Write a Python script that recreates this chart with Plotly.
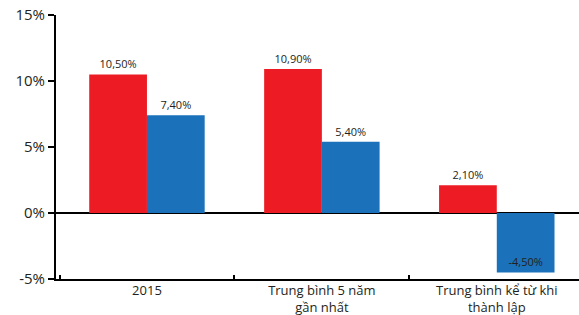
import plotly.graph_objects as go

categories = ["2015", "Trung bình 5 năm<br>gần nhất", "Trung bình kể từ khi<br>thành lập"]
red_values = [10.5, 10.9, 2.1]
blue_values = [7.4, 5.4, -4.5]
y_ticks = [-5, 0, 5, 10, 15]

def fmt(v):
    return f"{v:.2f}%".replace(".", ",")

RED = "#ED1C24"
BLUE = "#1B72BA"
FONT = "Open Sans"
TXT = "#231F20"

fig = go.Figure()
fig.add_trace(go.Bar(
    x=categories, y=red_values, marker_color=RED, marker_line_width=0,
    text=[fmt(v) for v in red_values], textposition="outside",
    textfont=dict(size=11, color=TXT, family=FONT), cliponaxis=False,
))
fig.add_trace(go.Bar(
    x=categories, y=blue_values, marker_color=BLUE, marker_line_width=0,
    text=[fmt(v) for v in blue_values],
    textposition=["outside" if v >= 0 else "inside" for v in blue_values],
    insidetextanchor="end",
    textfont=dict(size=11, color=TXT, family=FONT), cliponaxis=False,
))

fig.update_layout(
    width=579, height=315,
    margin=dict(l=56, r=0, t=15, b=36),
    paper_bgcolor="white", plot_bgcolor="white",
    showlegend=False,
    barmode="group", bargap=0.34, bargroupgap=0,
    font=dict(family=FONT, color=TXT),
)
fig.update_xaxes(
    type="category", range=[-0.52, 2.47], automargin=False,
    showline=True, linecolor="black", linewidth=2,
    ticks="inside", tickson="boundaries", ticklen=4, tickwidth=2, tickcolor="black",
    tickfont=dict(size=13, family=FONT, color=TXT),
    ticklabelstandoff=-2,
    showgrid=False,
)
fig.update_yaxes(
    range=[-5, 15], tickvals=y_ticks, ticktext=[f"{v}%" for v in y_ticks],
    automargin=False,
    showline=True, linecolor="black", linewidth=2,
    ticks="outside", ticklen=6, tickwidth=2, tickcolor="black",
    tickfont=dict(size=15, family=FONT, color=TXT),
    showgrid=False, zeroline=True, zerolinecolor="black", zerolinewidth=1.5,
)

fig.write_html(
    "out.html",
    config={"displayModeBar": False},
    post_script="document.body.style.margin='0';document.body.style.overflow='hidden';",
)
